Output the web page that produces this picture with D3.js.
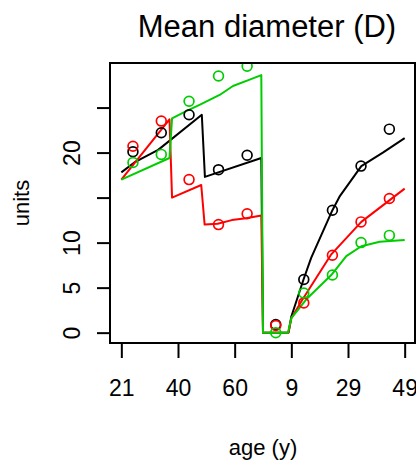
<!DOCTYPE html>
<html>
<head>
<meta charset="utf-8">
<script src="https://cdn.jsdelivr.net/npm/d3@7"></script>
<style>
  body { margin: 0; background: #fff; }
  svg text { font-family: "Liberation Sans", Arial, sans-serif; fill: #000; }
</style>
</head>
<body>
<div id="chart"></div>
<script>
// x is a running index over two stands glued together, ticks are labelled with the age
let xTickIdx = [1, 21, 41, 61, 81, 101],
    xTickLabels = ['21', '40', '60', '9', '29', '49'],
    yTicks = [0, 5, 10, 15, 20, 25],
    yTickLabels = ['0', '5', '10', '', '20', ''];

// observed means (circles)
let obsIdx = [5.1, 15.1, 24.9, 35.3, 45.4, 55.5, 65.4, 75.5, 85.6, 95.6],
    obsBlack = [20.1, 22.2, 24.2, 18.1, 19.7, 0.9, 5.9, 13.6, 18.5, 22.6],
    obsRed = [20.7, 23.5, 17.0, 12.0, 13.2, 0.8, 3.3, 8.6, 12.3, 14.9],
    obsGreen = [18.9, 19.8, 25.7, 28.5, 29.6, 0.0, 4.4, 6.4, 10.0, 10.8];

// fitted curves
let fitBlackIdx = [1, 5.6, 14, 29.4, 30.5, 50.4, 51, 60, 61, 65.3, 68, 75.5, 78, 85.7, 93.3, 101],
    fitBlack = [17.8, 18.9, 20.3, 24.2, 17.3, 19.4, 0, 0, 1.8, 5.9, 8.3, 13.6, 15.1, 18.5, 20.0, 21.6];
let fitRedIdx = [1, 18.0, 18.9, 29.2, 30.4, 35, 40, 45, 50.4, 51, 60, 61, 65, 75.1, 85.7, 101],
    fitRed = [17.0, 23.7, 15.0, 16.4, 12.0, 12.1, 12.5, 12.7, 13.0, 0, 0, 1.6, 3.7, 8.7, 12.3, 16.0];
let fitGreenIdx = [1, 18.0, 18.9, 23.9, 28.6, 35.7, 40.4, 46.3, 50.4, 51, 59.8, 61, 66.3, 75.1, 80.4, 85.7, 92.2, 101],
    fitGreen = [17.0, 19.4, 23.8, 24.6, 25.3, 26.4, 27.4, 28.1, 28.6, 0, 0, 1.6, 3.7, 6.4, 8.5, 9.6, 10.1, 10.3];

let series = [
    { color: '#000000', idx: fitBlackIdx, fit: fitBlack, obs: obsBlack },
    { color: '#FF0000', idx: fitRedIdx, fit: fitRed, obs: obsRed },
    { color: '#00CD00', idx: fitGreenIdx, fit: fitGreen, obs: obsGreen }
];

let width = 416,
    height = 463,
    plotLeft = 110, plotRight = 416, plotTop = 63, plotBottom = 343;

let x = d3.scaleLinear().domain([-3, 105]).range([plotLeft, plotRight]);
let y = d3.scaleLinear().domain([-1.15, 29.95]).range([plotBottom, plotTop]);

let svg = d3.select('#chart').append('svg')
    .attr('width', width)
    .attr('height', height);

svg.append('clipPath').attr('id', 'plotclip')
    .append('rect')
    .attr('x', plotLeft).attr('y', plotTop)
    .attr('width', plotRight - plotLeft).attr('height', plotBottom - plotTop);

let plot = svg.append('g').attr('clip-path', 'url(#plotclip)');

let line = d3.line()
    .x(function(d) { return x(d[0]) })
    .y(function(d) { return y(d[1]) });

series.forEach(function(s) {
    plot.append('path')
        .datum(s.idx.map(function(v, i) { return [v, s.fit[i]] }))
        .attr('d', line)
        .attr('fill', 'none')
        .attr('stroke', s.color)
        .attr('stroke-width', 2)
        .attr('stroke-linejoin', 'round');
});

series.forEach(function(s) {
    plot.selectAll(null)
        .data(obsIdx.map(function(v, i) { return [v, s.obs[i]] }))
        .enter().append('circle')
        .attr('cx', function(d) { return x(d[0]) })
        .attr('cy', function(d) { return y(d[1]) })
        .attr('r', 4.9)
        .attr('fill', 'none')
        .attr('stroke', s.color)
        .attr('stroke-width', 1.7);
});

// box
svg.append('rect')
    .attr('x', plotLeft).attr('y', plotTop)
    .attr('width', plotRight - plotLeft - 1).attr('height', plotBottom - plotTop)
    .attr('fill', 'none')
    .attr('stroke', '#000')
    .attr('stroke-width', 2);

// x axis
let xAxis = d3.axisBottom(x)
    .tickValues(xTickIdx)
    .tickFormat(function(d, i) { return xTickLabels[i] })
    .tickSizeInner(15)
    .tickSizeOuter(0)
    .tickPadding(22);

let gx = svg.append('g')
    .attr('transform', 'translate(0,' + plotBottom + ')')
    .call(xAxis);
gx.select('.domain').remove();
gx.selectAll('line').attr('stroke', '#000').attr('stroke-width', 2);
gx.selectAll('text').attr('font-size', 23).attr('font-family', '"Liberation Sans", Arial, sans-serif');

// y axis
let yAxis = d3.axisLeft(y)
    .tickValues(yTicks)
    .tickFormat(function(d, i) { return yTickLabels[i] })
    .tickSizeInner(13)
    .tickSizeOuter(0)
    .tickPadding(0);

let gy = svg.append('g')
    .attr('transform', 'translate(' + plotLeft + ',0)')
    .call(yAxis);
gy.select('.domain').remove();
gy.selectAll('line').attr('stroke', '#000').attr('stroke-width', 2);
gy.selectAll('text')
    .attr('font-size', 23)
    .attr('font-family', '"Liberation Sans", Arial, sans-serif')
    .attr('x', null).attr('dy', null)
    .attr('text-anchor', 'middle')
    .attr('transform', 'translate(-30,0) rotate(-90)');

// titles
svg.append('text')
    .attr('x', (plotLeft + plotRight) / 2 + 4)
    .attr('y', 37)
    .attr('text-anchor', 'middle')
    .attr('font-size', 31)
    .text('Mean diameter (D)');

svg.append('text')
    .attr('x', (plotLeft + plotRight) / 2)
    .attr('y', 455)
    .attr('text-anchor', 'middle')
    .attr('font-size', 22)
    .text('age (y)');

svg.append('text')
    .attr('transform', 'translate(29,' + (plotTop + plotBottom) / 2 + ') rotate(-90)')
    .attr('text-anchor', 'middle')
    .attr('font-size', 22)
    .text('units');
</script>
</body>
</html>
